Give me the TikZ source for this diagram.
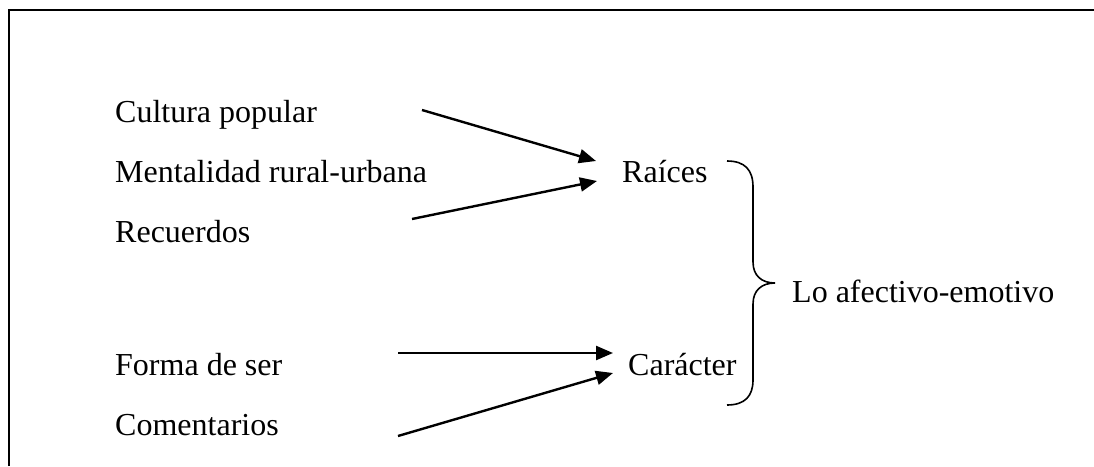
\documentclass[tikz,border=0pt]{standalone}
\usepackage{fontspec}
\setmainfont{Liberation Serif}
\usetikzlibrary{arrows.meta}
\begin{document}
\begin{tikzpicture}[x=1pt,y=-1pt,
  lbl/.style={anchor=base west, inner sep=0pt, font=\fontsize{32}{38}\selectfont},
  arr/.style={line width=2.4pt, -{Triangle[length=17pt,width=14pt]}},
  frameline/.style={line width=2pt},
  bracestyle/.style={line width=1.6pt}]
\useasboundingbox (0,0) rectangle (1094,466);
\draw[frameline] (9,466) -- (9,10) -- (1094,10);

\node[lbl] (cult) at (115,122) {Cultura popular};
\node[lbl] (ment) at (115,182) {Mentalidad rural-urbana};
\node[lbl] (recu) at (115,242) {Recuerdos};
\node[lbl] (forma) at (115,375) {Forma de ser};
\node[lbl] (come) at (115,435) {Comentarios};
\node[lbl] (raic) at (622,182) {Raíces};
\node[lbl] (cara) at (628,375) {Carácter};
\node[lbl] (lo) at (792,302) {Lo afectivo-emotivo};

\coordinate (a1s) at (422,110);
\coordinate (a1e) at (596,161);
\coordinate (a2s) at (412,219);
\coordinate (a2e) at (597,181);
\coordinate (a3s) at (398,353);
\coordinate (a3e) at (613,353);
\coordinate (a4s) at (398,436);
\coordinate (a4e) at (613,373);
\draw[arr] (a1s) -- (a1e);
\draw[arr] (a2s) -- (a2e);
\draw[arr] (a3s) -- (a3e);
\draw[arr] (a4s) -- (a4e);

\coordinate (bt) at (727,161);
\coordinate (bm) at (775,283);
\coordinate (bb) at (727,405);
\draw[bracestyle] (bt) .. controls (745,161) and (753,170) .. (753,187)
  -- (753,262) .. controls (753,276) and (762,283) .. (bm)
  .. controls (762,283) and (753,290) .. (753,304)
  -- (753,380) .. controls (753,396) and (745,405) .. (bb);
\end{tikzpicture}
\end{document}
